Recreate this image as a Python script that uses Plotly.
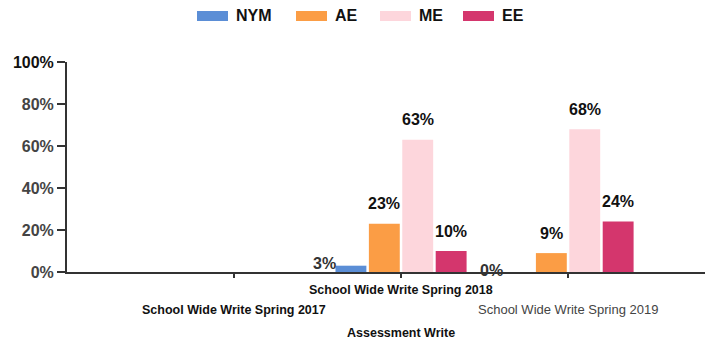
import plotly.graph_objects as go

# Assessment results by performance band (percent of students)
categories = ["School Wide Write Spring 2017",
              "School Wide Write Spring 2018",
              "School Wide Write Spring 2019"]
series_names = ["NYM", "AE", "ME", "EE"]
nym = [None, 3, 0]
ae = [None, 23, 9]
me = [None, 63, 68]
ee = [None, 10, 24]
y_tick_values = [0, 20, 40, 60, 80, 100]
y_tick_labels = ["0%", "20%", "40%", "60%", "80%", "100%"]
x_title = "Assessment Write"

series_values = [nym, ae, me, ee]
colors = ["#5b8ed6", "#fb9d45", "#fdd6dc", "#d4366d"]

FONT = "Liberation Sans, Arial, sans-serif"
BARGAP = 0.2
BARGROUPGAP = 0.075
x_pos = list(range(len(categories)))

fig = go.Figure()
for name, vals, col in zip(series_names, series_values, colors):
    fig.add_trace(go.Bar(
        x=x_pos, y=vals, name=name, marker=dict(color=col, line=dict(width=0)),
        showlegend=False, hoverinfo="skip",
    ))

# value labels above each bar (small values sit beside the bar near the baseline)
slot = (1 - BARGAP) / len(series_names)
annotations = []
for k, vals in enumerate(series_values):
    off = (k - (len(series_names) - 1) / 2) * slot
    for i, v in enumerate(vals):
        if v is None:
            continue
        small = v < 5
        annotations.append(dict(
            x=x_pos[i] + off, y=v, xref="x", yref="y",
            text=f"<b>{v}%</b>", showarrow=False,
            xanchor="center", yanchor="middle",
            xshift=-26 if small else 0, yshift=2 if small else 20,
            font=dict(family=FONT, size=16, color="#333" if small else "#111"),
        ))

# staggered category labels
label_styles = [
    dict(bold=True, shift=-38, color="#111", size=12.5),
    dict(bold=True, shift=-18, color="#111", size=12.5),
    dict(bold=False, shift=-37, color="#444", size=13),
]
for i, (cat, st) in enumerate(zip(categories, label_styles)):
    annotations.append(dict(
        x=x_pos[i], y=0, xref="x", yref="paper",
        text=f"<b>{cat}</b>" if st["bold"] else cat, showarrow=False,
        xanchor="center", yanchor="middle", yshift=st["shift"],
        font=dict(family=FONT, size=st["size"], color=st["color"]),
    ))

# axis title, centred under the middle category
annotations.append(dict(
    x=x_pos[1], y=0, xref="x", yref="paper", text=f"<b>{x_title}</b>",
    showarrow=False, xanchor="center", yanchor="middle", yshift=-61,
    font=dict(family=FONT, size=12.5, color="#111"),
))

# legend row across the top
PLOT_L, PLOT_R, PLOT_T, PLOT_B = 67, 705, 62, 272
W = PLOT_R - PLOT_L
H = PLOT_B - PLOT_T
legend_left = [197, 296, 380, 463]
shapes = []
for name, col, lx in zip(series_names, colors, legend_left):
    shapes.append(dict(
        type="rect", xref="paper", yref="paper",
        x0=(lx - PLOT_L) / W, x1=(lx + 31 - PLOT_L) / W,
        y0=(PLOT_B - 21) / H, y1=(PLOT_B - 11) / H,
        fillcolor=col, line=dict(width=0),
    ))
    annotations.append(dict(
        x=(lx + 37 - PLOT_L) / W, y=(PLOT_B - 16) / H, xref="paper", yref="paper",
        text=f"<b>{name}</b>", showarrow=False, xanchor="left", yanchor="middle",
        font=dict(family=FONT, size=16, color="#111"),
    ))

y_text = [f"<b><span style='color:#111'>{t}</span></b>" if v == 100 else f"<b>{t}</b>"
          for v, t in zip(y_tick_values, y_tick_labels)]

fig.update_layout(
    width=711, height=345,
    margin=dict(l=PLOT_L, r=711 - PLOT_R, t=PLOT_T, b=345 - PLOT_B),
    paper_bgcolor="white", plot_bgcolor="white",
    barmode="group", bargap=BARGAP, bargroupgap=BARGROUPGAP,
    font=dict(family=FONT),
    xaxis=dict(
        range=[-1.0, 2.82], tickvals=x_pos, ticktext=["", "", ""],
        ticks="outside", ticklen=4, tickwidth=1.5, tickcolor="#333",
        showline=True, linecolor="#333", linewidth=2, showgrid=False,
        zeroline=False, fixedrange=True,
    ),
    yaxis=dict(
        range=[0, 100], tickvals=y_tick_values, ticktext=y_text,
        ticks="outside", ticklen=8, tickwidth=1.5, tickcolor="#333",
        tickfont=dict(family=FONT, size=16, color="#444"),
        showline=True, linecolor="#333", linewidth=2, showgrid=False,
        zeroline=False, fixedrange=True,
    ),
    annotations=annotations, shapes=shapes, showlegend=False,
)

fig.write_html("out.html")
